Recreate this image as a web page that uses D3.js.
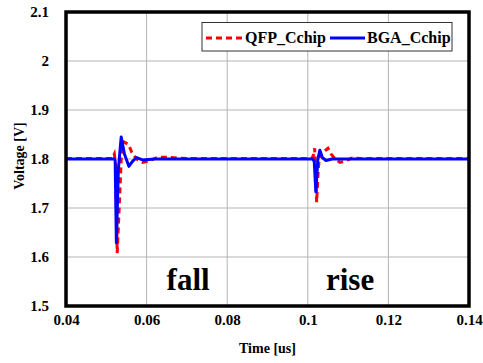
<!DOCTYPE html>
<html><head><meta charset="utf-8">
<script src="https://cdn.jsdelivr.net/npm/d3@7"></script>
<style>body{margin:0;background:#fff}svg{display:block}text{font-family:"Liberation Serif","Times New Roman",serif;font-weight:bold}</style>
</head><body><svg id="c" width="483" height="363"></svg>
<script>
const xTicks=[0.04,0.06,0.08,0.1,0.12,0.14];
const yTicks=[1.5,1.6,1.7,1.8,1.9,2.0,2.1];
const xTickLabels=["0.04","0.06","0.08","0.1","0.12","0.14"];
const yTickLabels=["1.5","1.6","1.7","1.8","1.9","2","2.1"];
const seriesNames=["QFP_Cchip","BGA_Cchip"];
const qfpT=[0.04,0.0515,0.0520,0.0523,0.0527,0.0532,0.0537,0.0543,0.0550,0.0556,0.0563,0.0575,0.0590,0.0605,0.0630,0.0660,0.070,0.1010,0.1015,0.1017,0.1020,0.1022,0.1026,0.1030,0.1040,0.1050,0.1058,0.1068,0.1080,0.1095,0.1110,0.1130,0.14];
const qfpV=[1.801,1.801,1.81,1.79,1.608,1.70,1.80,1.835,1.832,1.828,1.814,1.800,1.793,1.796,1.804,1.803,1.801,1.801,1.81,1.822,1.76,1.712,1.78,1.81,1.815,1.822,1.81,1.80,1.793,1.797,1.802,1.801,1.801];
const bgaT=[0.04,0.0520,0.0522,0.0525,0.0530,0.0537,0.0545,0.0556,0.0565,0.0575,0.0590,0.062,0.1012,0.1016,0.1020,0.1025,0.1030,0.1036,0.1045,0.1060,0.14];
const bgaV=[1.8,1.8,1.797,1.629,1.78,1.845,1.81,1.785,1.795,1.803,1.798,1.8,1.8,1.795,1.733,1.80,1.818,1.803,1.797,1.8,1.8];
const annotations=[{t:0.0703,v:1.533,label:"fall"},{t:0.1105,v:1.533,label:"rise"}];

const svg=d3.select("#c");
const L=66,R=469,T=12,B=306;
const x=d3.scaleLinear().domain([0.04,0.14]).range([L,R]);
const y=d3.scaleLinear().domain([1.5,2.1]).range([B,T]);
const FF="'Liberation Serif','Times New Roman',serif";

svg.append("g").selectAll("line").data(xTicks.slice(1,-1)).join("line")
 .attr("x1",d=>x(d)).attr("x2",d=>x(d)).attr("y1",T).attr("y2",B).attr("stroke","#b4b4b4").attr("stroke-width",1);
svg.append("g").selectAll("line").data(yTicks.slice(1,-1)).join("line")
 .attr("x1",L).attr("x2",R).attr("y1",d=>y(d)).attr("y2",d=>y(d)).attr("stroke","#b4b4b4").attr("stroke-width",1);

const ax=svg.append("g").attr("transform",`translate(0,${B+5})`).attr("font-family",FF).call(d3.axisBottom(x).tickValues(xTicks).tickFormat((d,i)=>xTickLabels[i]).tickSize(0));
ax.select(".domain").remove();
ax.selectAll("text").attr("font-size",15).attr("fill","#000").style("font-family",FF).style("font-weight","bold");
const ay=svg.append("g").attr("transform",`translate(${L-14},0)`).attr("font-family",FF).call(d3.axisLeft(y).tickValues(yTicks).tickFormat((d,i)=>yTickLabels[i]).tickSize(0));
ay.select(".domain").remove();
ay.selectAll("text").attr("font-size",15).attr("fill","#000").style("font-family",FF).style("font-weight","bold").attr("dy","0.3em");

svg.append("text").attr("x",(L+R)/2).attr("y",353).attr("text-anchor","middle").attr("font-size",14).text("Time [us]");
svg.append("text").attr("transform",`translate(24,${156}) rotate(-90)`).attr("text-anchor","middle").attr("font-size",14).text("Voltage [V]");

svg.append("clipPath").attr("id","cp").append("rect").attr("x",L).attr("y",T).attr("width",R-L).attr("height",B-T);
const line=d3.line().x(d=>x(d[0])).y(d=>y(d[1]));
const g=svg.append("g").attr("clip-path","url(#cp)");
g.append("path").datum(qfpT.map((t,i)=>[t,qfpV[i]])).attr("d",line).attr("fill","none").attr("stroke","#ff0000").attr("stroke-width",3).attr("stroke-dasharray","6,4");
g.append("path").datum(bgaT.map((t,i)=>[t,bgaV[i]])).attr("d",line).attr("fill","none").attr("stroke","#0000ff").attr("stroke-width",3).attr("stroke-linejoin","round");

svg.selectAll("text.ann").data(annotations).join("text").attr("class","ann")
 .attr("x",d=>x(d.t)).attr("y",d=>y(d.v)).attr("text-anchor","middle").attr("font-size",31).text(d=>d.label);

const lg=svg.append("g");
lg.append("rect").attr("x",202).attr("y",22.5).attr("width",250).attr("height",28.5).attr("fill","#fff").attr("stroke","#333").attr("stroke-width",1);
lg.append("line").attr("x1",206).attr("x2",243).attr("y1",38).attr("y2",38).attr("stroke","#ff0000").attr("stroke-width",3).attr("stroke-dasharray","6,4");
lg.append("text").attr("x",245).attr("y",43).attr("font-size",16).text(seriesNames[0]);
lg.append("line").attr("x1",330).attr("x2",365).attr("y1",38).attr("y2",38).attr("stroke","#0000ff").attr("stroke-width",3);
lg.append("text").attr("x",367).attr("y",43).attr("font-size",16).text(seriesNames[1]);

svg.append("rect").attr("x",L).attr("y",T).attr("width",R-L).attr("height",B-T).attr("fill","none").attr("stroke","#000").attr("stroke-width",3.5);
</script></body></html>
